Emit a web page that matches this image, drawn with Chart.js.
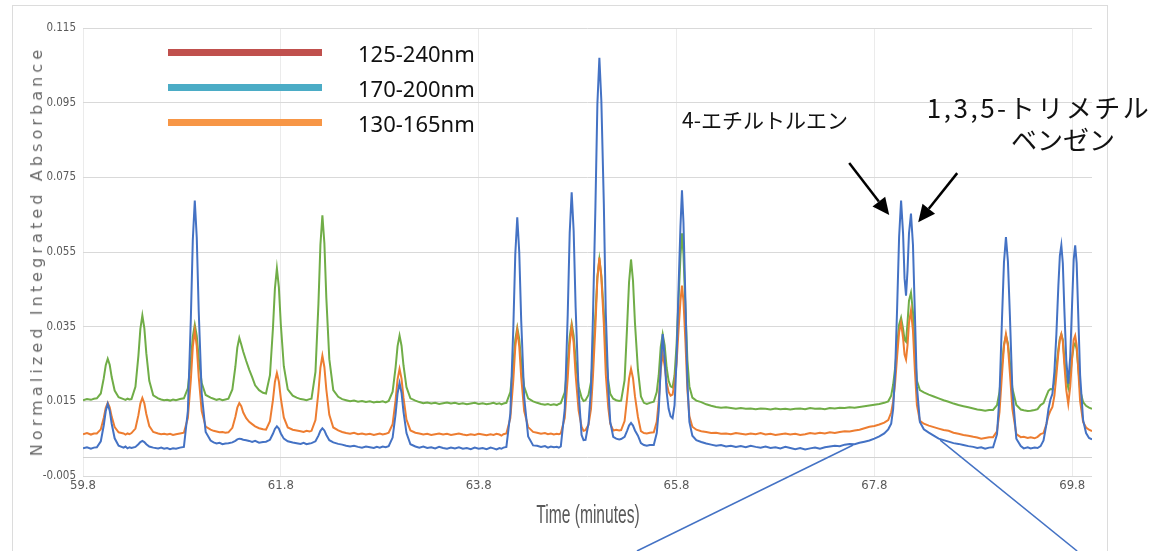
<!DOCTYPE html>
<html>
<head>
<meta charset="utf-8">
<title>Normalized Integrated Absorbance vs Time</title>
<script src="https://cdn.jsdelivr.net/npm/chart.js@4.4.1/dist/chart.umd.min.js"></script>
<style>
  html, body { margin: 0; padding: 0; background: #ffffff; }
  #wrap { position: relative; width: 1162px; height: 551px; overflow: hidden; background: #ffffff; }
  #frame { position: absolute; left: 12px; top: 5px; width: 1096px; height: 600px; border: 1px solid #dcdcdc; box-sizing: border-box; }
  #chart { position: absolute; left: 0; top: 0; }
  .txt { position: absolute; white-space: nowrap; line-height: 1; z-index: 2; }
  .swatch { position: absolute; height: 7px; z-index: 2; }
  .legendText { font-family: "Noto Sans", "Open Sans", sans-serif; font-size: 22px; color: #111; left: 358px; }
  #yTitle { left: 37px; top: 251px; transform: translate(-50%, -50%) rotate(-90deg);
            font-family: "DejaVu Sans", Verdana, sans-serif; font-size: 16px; letter-spacing: 4.1px; color: #6a6a6a; }
  #xTitle { left: 588px; top: 501px; transform: translateX(-50%) scaleX(0.6);
            font-family: "Liberation Sans", Arial, sans-serif; font-size: 26px; color: #595959; }
  .jp { font-family: "Noto Sans CJK JP", sans-serif; color: #111; }
</style>
</head>
<body>
<div id="wrap">
  <div id="frame"></div>
  <canvas id="chart" width="1162" height="551"></canvas>

  <div class="swatch" style="left:168px; top:49px; width:154px; background:#c0504d;"></div>
  <div class="swatch" style="left:168px; top:84px; width:154px; background:#4bacc6;"></div>
  <div class="swatch" style="left:168px; top:119px; width:154px; background:#f79646;"></div>
  <div class="txt legendText" style="top:42px;">125-240nm</div>
  <div class="txt legendText" style="top:77px;">170-200nm</div>
  <div class="txt legendText" style="top:112px;">130-165nm</div>

  <div class="txt jp" style="left:682px; top:109px; font-size:21px;">4-エチルトルエン</div>
  <div class="txt jp" style="left:1039px; top:94px; font-size:26px; letter-spacing:2.5px; transform:translateX(-50%);">1,3,5-トリメチル</div>
  <div class="txt jp" style="left:1063px; top:126px; font-size:26px; transform:translateX(-50%);">ベンゼン</div>

  <div class="txt" id="yTitle">Normalized Integrated Absorbance</div>
  <div class="txt" id="xTitle">Time (minutes)</div>
</div>

<script>
// Retention time (minutes) of each sample, shared by the three detector bands
const timeMin = [
  59.80, 59.84, 59.88, 59.91, 59.94,
  59.98, 60.01, 60.03, 60.05, 60.07, 60.09, 60.12, 60.16, 60.21,
  60.23, 60.25, 60.27, 60.29,
  60.33, 60.36, 60.38, 60.40, 60.42, 60.44, 60.47, 60.51, 60.56,
  60.59, 60.62, 60.65, 60.68, 60.71, 60.74, 60.78, 60.82,
  60.86, 60.89, 60.91, 60.93, 60.95, 60.97, 61.00, 61.04, 61.09,
  61.12, 61.15, 61.18, 61.21, 61.24, 61.27,
  61.31, 61.34, 61.36, 61.38, 61.40, 61.42, 61.45, 61.48, 61.51, 61.54, 61.58, 61.62, 61.65,
  61.69, 61.72, 61.74, 61.76, 61.78, 61.80, 61.83, 61.87, 61.92,
  61.96, 62.00, 62.03, 62.06, 62.09, 62.11,
  62.15, 62.18, 62.20, 62.22, 62.24, 62.26, 62.29, 62.33, 62.38,
  62.42, 62.46, 62.50, 62.54, 62.58, 62.62, 62.66, 62.70, 62.74, 62.77, 62.80, 62.83, 62.86, 62.89,
  62.93, 62.96, 62.98, 63.00, 63.02, 63.04, 63.07, 63.11, 63.16,
  63.20, 63.24, 63.28, 63.32, 63.36, 63.40, 63.44, 63.48, 63.52, 63.56, 63.60, 63.64,
  63.68, 63.72, 63.76, 63.80, 63.84, 63.88, 63.92, 63.95, 63.98, 64.01, 64.03, 64.05, 64.08,
  64.12, 64.15, 64.17, 64.19, 64.21, 64.23, 64.26, 64.30, 64.35,
  64.39, 64.43, 64.47, 64.50, 64.53, 64.56, 64.59, 64.61, 64.63,
  64.67, 64.70, 64.72, 64.74, 64.76, 64.78, 64.81, 64.84, 64.86, 64.88,
  64.91, 64.935, 64.955, 64.98, 65.00, 65.02, 65.04, 65.065, 65.085, 65.11, 65.13, 65.16,
  65.19, 65.22, 65.24,
  65.275, 65.30, 65.32, 65.34, 65.36, 65.38, 65.41, 65.44, 65.47, 65.50, 65.53,
  65.57, 65.60, 65.62, 65.64, 65.66, 65.68, 65.70, 65.72, 65.74, 65.76, 65.78,
  65.80, 65.82, 65.84, 65.855, 65.87, 65.89, 65.91, 65.93, 65.96, 66.00,
  66.05, 66.10, 66.15, 66.20, 66.25, 66.30, 66.35, 66.40, 66.45, 66.50,
  66.55, 66.60, 66.65, 66.70, 66.75, 66.80, 66.85, 66.90, 66.95, 67.00,
  67.05, 67.10, 67.15, 67.20, 67.25, 67.30, 67.35, 67.40, 67.45, 67.50,
  67.55, 67.60, 67.65, 67.70, 67.75, 67.80, 67.85, 67.90, 67.94,
  67.97, 67.99, 68.01, 68.03, 68.05, 68.07, 68.09, 68.105, 68.12, 68.135, 68.15, 68.17, 68.19, 68.21, 68.23, 68.26, 68.30,
  68.35, 68.40, 68.45, 68.50, 68.55, 68.60, 68.65, 68.70, 68.75, 68.80, 68.84, 68.88, 68.92, 68.96,
  69.00, 69.04, 69.065, 69.09, 69.11, 69.13, 69.15, 69.17, 69.195, 69.235, 69.28,
  69.31, 69.35, 69.38, 69.42, 69.45, 69.48,
  69.51, 69.54, 69.56, 69.58, 69.60, 69.62, 69.64, 69.66, 69.675, 69.69, 69.705, 69.72, 69.74,
  69.76, 69.78, 69.80, 69.815, 69.83, 69.845, 69.86, 69.88, 69.91, 69.94, 69.97, 70.00
];

// Band 125-240 nm (blue trace)
const absorb125to240 = [
  .0024, .0027, .0023, .0026, .0027,
  .0043, .0086, .0124, .0143, .0125, .0090, .0051, .0031, .0026,
  .0029, .0024, .0027, .0025,
  .0028, .0035, .0041, .0044, .0041, .0035, .0029, .0026, .0024,
  .0026, .0023, .0025, .0022, .0024, .0023, .0026, .0028,
  .0124, .0370, .0582, .0688, .0589, .0390, .0171, .0068, .0045,
  .0040, .0037, .0039, .0035, .0037, .0038,
  .0040, .0044, .0048, .0050, .0049, .0047, .0046, .0044, .0041, .0044, .0039, .0041, .0042,
  .0047, .0063, .0076, .0083, .0077, .0064, .0050, .0043, .0040,
  .0038, .0036, .0039, .0035, .0037, .0038,
  .0043, .0058, .0071, .0078, .0072, .0060, .0046, .0040, .0036,
  .0034, .0031, .0029, .0031, .0028, .0026, .0029, .0027, .0025, .0028, .0026, .0029, .0027, .0030,
  .0053, .0116, .0171, .0199, .0173, .0122, .0065, .0035, .0029,
  .0026, .0029, .0025, .0027, .0024, .0028, .0025, .0023, .0026, .0024, .0027, .0023,
  .0025, .0022, .0026, .0023, .0025, .0022, .0026, .0024, .0021, .0025, .0023, .0026, .0028,
  .0118, .0346, .0544, .0643, .0550, .0365, .0161, .0056, .0032,
  .0031, .0028, .0030, .0026, .0029, .0027, .0028, .0026, .0029,
  .0129, .0382, .0601, .0710, .0607, .0402, .0176, .0060, .0046, .0047,
  .0090, .0183, .0373, .0670, .0947, .1070, .0955, .0680, .0385, .0190, .0095, .0055,
  .0050, .0048, .0049,
  .0055, .0071, .0085, .0092, .0085, .0072, .0058, .0038, .0033, .0031, .0033,
  .0033, .0065, .0125, .0240, .0330, .0265, .0175, .0130, .0110, .0105, .0140,
  .0260, .0450, .0620, .0715, .0630, .0420, .0200, .0095, .0058, .0046,
  .0041, .0037, .0034, .0031, .0033, .0029, .0031, .0028, .0030, .0027,
  .0031, .0028, .0026, .0029, .0025, .0027, .0024, .0028, .0025, .0022,
  .0025, .0021, .0024, .0026, .0023, .0027, .0029, .0031, .0030, .0034,
  .0036, .0035, .0039, .0042, .0045, .0050, .0056, .0064, .0075,
  .0090, .0130, .0230, .0400, .0590, .0688, .0600, .0480, .0433, .0500, .0600, .0653, .0570, .0380, .0190, .0095, .0075,
  .0066, .0058, .0050, .0046, .0042, .0038, .0036, .0033, .0030, .0028, .0025, .0027, .0023, .0026,
  .0027, .0062, .0166, .0370, .0522, .0590, .0525, .0380, .0180, .0050, .0030,
  .0024, .0027, .0024, .0026, .0025, .0030,
  .0045, .0090, .0130, .0155, .0170, .0230, .0330, .0460, .0540, .0568, .0520, .0400, .0260,
  .0197, .0270, .0420, .0530, .0568, .0520, .0390, .0220, .0100, .0065, .0052, .0048
];

// Band 130-165 nm (orange trace)
const absorb130to165 = [
  .0062, .0065, .0061, .0064, .0064,
  .0075, .0106, .0133, .0146, .0134, .0109, .0081, .0067, .0064,
  .0061, .0064, .0062, .0065,
  .0077, .0113, .0144, .0159, .0145, .0116, .0084, .0068, .0064,
  .0062, .0063, .0061, .0063, .0060, .0062, .0064, .0066,
  .0105, .0207, .0296, .0340, .0298, .0215, .0124, .0082, .0074,
  .0071, .0069, .0067, .0068, .0066, .0067,
  .0079, .0108, .0133, .0145, .0137, .0120, .0105, .0095, .0089, .0083, .0078, .0075, .0074,
  .0097, .0153, .0202, .0226, .0203, .0158, .0107, .0080, .0074,
  .0072, .0070, .0068, .0071, .0069, .0071,
  .0100, .0175, .0240, .0272, .0242, .0181, .0114, .0080, .0072,
  .0068, .0065, .0063, .0066, .0062, .0064, .0061, .0063, .0060, .0062, .0064, .0061, .0063, .0066,
  .0089, .0153, .0209, .0237, .0211, .0159, .0101, .0072, .0066,
  .0064, .0061, .0063, .0060, .0062, .0064, .0061, .0063, .0060, .0062, .0064, .0061,
  .0059, .0062, .0060, .0063, .0061, .0059, .0062, .0060, .0063, .0061, .0058, .0062, .0064,
  .0105, .0207, .0296, .0340, .0298, .0215, .0124, .0081, .0068,
  .0066, .0063, .0065, .0062, .0064, .0061, .0063, .0062, .0064,
  .0106, .0212, .0304, .0350, .0307, .0221, .0126, .0082, .0071, .0073,
  .0087, .0129, .0216, .0352, .0479, .0535, .0482, .0358, .0222, .0133, .0090, .0072,
  .0074, .0072, .0073,
  .0097, .0158, .0211, .0237, .0212, .0163, .0108, .0070, .0065, .0064, .0066,
  .0067, .0095, .0150, .0235, .0277, .0245, .0200, .0175, .0165, .0168, .0200,
  .0250, .0340, .0420, .0460, .0420, .0310, .0180, .0110, .0082, .0074,
  .0070, .0068, .0065, .0066, .0063, .0064, .0062, .0065, .0063, .0061,
  .0064, .0062, .0065, .0061, .0063, .0060, .0062, .0064, .0061, .0063,
  .0060, .0062, .0065, .0063, .0066, .0064, .0067, .0065, .0068, .0070,
  .0069, .0072, .0074, .0078, .0082, .0084, .0088, .0093, .0100,
  .0120, .0150, .0200, .0270, .0335, .0360, .0320, .0275, .0262, .0300, .0360, .0393, .0340, .0230, .0140, .0098, .0090,
  .0085, .0081, .0077, .0073, .0071, .0066, .0063, .0060, .0058, .0055, .0053, .0050, .0052, .0054,
  .0054, .0070, .0122, .0222, .0297, .0330, .0299, .0226, .0130, .0062, .0054,
  .0055, .0052, .0054, .0051, .0055, .0062,
  .0065, .0090, .0112, .0125, .0135, .0165, .0220, .0280, .0315, .0330, .0310, .0250, .0180,
  .0143, .0190, .0270, .0315, .0326, .0300, .0240, .0150, .0095, .0080, .0074, .0070
];

// Band 170-200 nm (green trace)
const absorb170to200 = [
  .0153, .0156, .0154, .0157, .0158,
  .0171, .0212, .0247, .0264, .0248, .0215, .0179, .0161, .0156,
  .0154, .0157, .0155, .0156,
  .0189, .0272, .0344, .0380, .0346, .0279, .0205, .0166, .0158,
  .0155, .0153, .0154, .0152, .0155, .0153, .0156, .0158,
  .0185, .0259, .0323, .0355, .0325, .0265, .0199, .0167, .0160,
  .0157, .0154, .0156, .0153, .0155, .0157,
  .0182, .0242, .0294, .0320, .0302, .0283, .0258, .0235, .0215, .0193, .0180, .0173, .0171,
  .0220, .0345, .0452, .0506, .0456, .0355, .0244, .0182, .0165,
  .0160, .0156, .0155, .0153, .0156, .0157,
  .0229, .0411, .0569, .0648, .0574, .0426, .0263, .0180, .0162,
  .0156, .0153, .0150, .0152, .0149, .0151, .0148, .0150, .0147, .0149, .0148, .0150, .0147, .0151,
  .0176, .0241, .0298, .0326, .0299, .0246, .0188, .0158, .0152,
  .0148, .0145, .0147, .0144, .0146, .0143, .0145, .0147, .0144, .0146, .0143, .0145,
  .0142, .0144, .0146, .0143, .0145, .0142, .0144, .0146, .0143, .0145, .0142, .0144, .0146,
  .0175, .0250, .0315, .0347, .0317, .0256, .0189, .0158, .0150,
  .0146, .0143, .0141, .0143, .0140, .0142, .0140, .0143, .0145,
  .0174, .0254, .0323, .0358, .0326, .0261, .0190, .0160, .0151, .0153,
  .0167, .0201, .0272, .0382, .0484, .0530, .0487, .0388, .0278, .0205, .0170, .0157,
  .0153, .0151, .0152,
  .0207, .0348, .0469, .0530, .0473, .0359, .0234, .0163, .0146, .0143, .0146,
  .0149, .0175, .0220, .0295, .0330, .0300, .0240, .0205, .0190, .0187, .0220,
  .0300, .0420, .0540, .0600, .0545, .0400, .0260, .0190, .0160, .0152,
  .0148, .0142, .0138, .0135, .0133, .0134, .0132, .0130, .0132, .0130,
  .0131, .0129, .0131, .0130, .0128, .0131, .0129, .0130, .0128, .0130,
  .0131, .0129, .0132, .0130, .0131, .0129, .0132, .0131, .0133, .0132,
  .0134, .0133, .0135, .0137, .0139, .0141, .0143, .0146, .0150,
  .0165, .0195, .0240, .0300, .0355, .0374, .0345, .0315, .0310, .0360, .0420, .0441, .0390, .0280, .0205, .0180, .0174,
  .0168, .0163, .0158, .0153, .0149, .0144, .0140, .0137, .0134, .0131, .0128, .0127, .0125, .0127,
  .0127, .0140, .0175, .0248, .0302, .0326, .0305, .0255, .0185, .0140, .0128,
  .0126, .0124, .0125, .0127, .0129, .0140,
  .0145, .0165, .0178, .0183, .0182, .0200, .0240, .0290, .0318, .0330, .0315, .0265, .0210,
  .0186, .0220, .0270, .0298, .0305, .0290, .0245, .0180, .0148, .0138, .0133, .0130
];

// Axis ticks
const xTickValues = [59.8, 61.8, 63.8, 65.8, 67.8, 69.8];
const xTickLabels = ['59.8', '61.8', '63.8', '65.8', '67.8', '69.8'];
const yTickValues = [-0.005, 0.015, 0.035, 0.055, 0.075, 0.095, 0.115];
const yTickLabels = ['-0.005', '0.015', '0.035', '0.055', '0.075', '0.095', '0.115'];

// Callout guide lines toward the enlarged baseline region: [time, absorbance] end points
const calloutLines = [
  [[65.40, -0.0251], [67.586, 0.0033]],
  [[68.465, 0.0046], [69.85, -0.0251]]
];
// Arrow tips on the 4-ethyltoluene and 1,3,5-trimethylbenzene peaks, with tail offsets in px
const arrowTips = [
  { t: 67.95, v: 0.0649, dx: -40, dy: -52 },
  { t: 68.243, v: 0.0630, dx: 39, dy: -49 }
];

[absorb125to240, absorb130to165, absorb170to200].forEach(function (arr) {
  if (arr.length !== timeMin.length) {
    throw new Error('series length ' + arr.length + ' != ' + timeMin.length);
  }
});

function toPoints(values) {
  return values.map(function (v, i) { return { x: timeMin[i], y: v }; });
}

const tickFont = "'Liberation Sans Narrow', 'DejaVu Sans Condensed', 'Liberation Sans', sans-serif";

const zeroLinePlugin = {
  id: 'zeroLine',
  beforeDatasetsDraw(chart) {
    const { ctx, chartArea, scales } = chart;
    const py = Math.round(scales.y.getPixelForValue(0)) + 0.5;
    ctx.save();
    ctx.strokeStyle = '#d2d2d2';
    ctx.lineWidth = 1;
    ctx.beginPath();
    ctx.moveTo(chartArea.left, py);
    ctx.lineTo(chartArea.right, py);
    ctx.stroke();
    ctx.restore();
  }
};

function drawArrow(ctx, x0, y0, x1, y1) {
  const ang = Math.atan2(y1 - y0, x1 - x0);
  const headLen = 17, headHalf = 8;
  const bx = x1 - headLen * Math.cos(ang), by = y1 - headLen * Math.sin(ang);
  ctx.beginPath();
  ctx.moveTo(x0, y0);
  ctx.lineTo(bx, by);
  ctx.stroke();
  ctx.beginPath();
  ctx.moveTo(x1, y1);
  ctx.lineTo(bx + headHalf * Math.sin(ang), by - headHalf * Math.cos(ang));
  ctx.lineTo(bx - headHalf * Math.sin(ang), by + headHalf * Math.cos(ang));
  ctx.closePath();
  ctx.fill();
}

const annotationPlugin = {
  id: 'annotations',
  afterDraw(chart) {
    const { ctx, scales } = chart;
    const xs = scales.x, ys = scales.y;
    ctx.save();
    ctx.strokeStyle = '#4472c4';
    ctx.lineWidth = 1.5;
    calloutLines.forEach(function (seg) {
      ctx.beginPath();
      ctx.moveTo(xs.getPixelForValue(seg[0][0]), ys.getPixelForValue(seg[0][1]));
      ctx.lineTo(xs.getPixelForValue(seg[1][0]), ys.getPixelForValue(seg[1][1]));
      ctx.stroke();
    });
    ctx.strokeStyle = '#000000';
    ctx.fillStyle = '#000000';
    ctx.lineWidth = 2.5;
    arrowTips.forEach(function (a) {
      const tx = xs.getPixelForValue(a.t), ty = ys.getPixelForValue(a.v);
      drawArrow(ctx, tx + a.dx, ty + a.dy, tx, ty);
    });
    ctx.restore();
  }
};

new Chart(document.getElementById('chart'), {
  type: 'line',
  data: {
    datasets: [
      { label: '125-240nm', data: toPoints(absorb125to240), borderColor: '#4472c4' },
      { label: '130-165nm', data: toPoints(absorb130to165), borderColor: '#ed7d31' },
      { label: '170-200nm', data: toPoints(absorb170to200), borderColor: '#70ad47' }
    ]
  },
  options: {
    responsive: false,
    animation: false,
    devicePixelRatio: 1,
    parsing: false,
    datasets: { line: { borderWidth: 2, pointRadius: 0, tension: 0, fill: false } },
    layout: { padding: { top: 28, right: 70, bottom: 0, left: 0 } },
    plugins: { legend: { display: false }, tooltip: { enabled: false } },
    scales: {
      x: {
        type: 'linear',
        min: 59.8,
        max: 70.0,
        afterBuildTicks(scale) { scale.ticks = xTickValues.map(function (v) { return { value: v }; }); },
        afterFit(scale) { scale.height = 75; },
        grid: { color: '#ebebeb', drawTicks: false },
        border: { display: false },
        ticks: {
          padding: 2,
          color: '#595959',
          maxRotation: 0,
          autoSkip: false,
          font: { family: tickFont, size: 13 },
          callback: function (value, index) { return xTickLabels[index]; }
        }
      },
      y: {
        type: 'linear',
        min: -0.005,
        max: 0.115,
        afterBuildTicks(scale) { scale.ticks = yTickValues.map(function (v) { return { value: v }; }); },
        afterFit(scale) { scale.width = 83; },
        grid: { color: '#d9d9d9', drawTicks: false },
        border: { display: false },
        ticks: {
          padding: 7,
          color: '#595959',
          font: { family: tickFont, size: 11.5 },
          callback: function (value, index) { return yTickLabels[index]; }
        }
      }
    }
  },
  plugins: [zeroLinePlugin, annotationPlugin]
});
</script>
</body>
</html>
